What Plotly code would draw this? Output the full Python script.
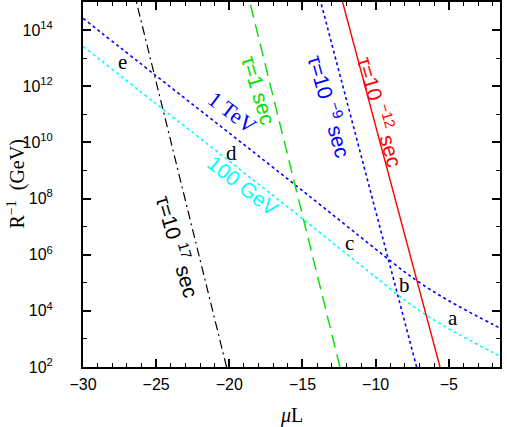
import plotly.graph_objects as go

# mass curves: mu*L vs R^-1 (GeV)
mu_L_mass = [-30, -25, -20, -15, -10, -8, -7, -6, -5, -4, -3, -2, -1.5]
r_1tev = [10 ** v for v in [14.42, 12.37, 10.33, 8.28, 6.2, 5.38, 5.01, 4.67, 4.36, 4.07, 3.79, 3.52, 3.38]]
r_100gev = [10 ** v for v in [13.42, 11.37, 9.33, 7.28, 5.2, 4.38, 4.01, 3.67, 3.36, 3.07, 2.79, 2.52, 2.38]]

# lifetime lines: mu*L where they cross R^-1 = 1e2 and 1e15
r_edges = [1e2, 1e15]
tau_m12 = [-5.6, -12.26]
tau_m9 = [-7.2, -13.75]
tau_1 = [-12.44, -18.6]
tau_17 = [-20.19, -26.35]

fig = go.Figure()

fig.add_trace(go.Scatter(x=mu_L_mass, y=r_1tev, mode='lines',
                         line=dict(color='#0000ff', width=1.6, dash='dot', shape='spline')))
fig.add_trace(go.Scatter(x=mu_L_mass, y=r_100gev, mode='lines',
                         line=dict(color='#00ffff', width=1.6, dash='dot', shape='spline')))
fig.add_trace(go.Scatter(x=tau_m12, y=r_edges, mode='lines',
                         line=dict(color='#ff0000', width=1.4)))
fig.add_trace(go.Scatter(x=tau_m9, y=r_edges, mode='lines',
                         line=dict(color='#0000ff', width=1.6, dash='dot')))
fig.add_trace(go.Scatter(x=tau_1, y=r_edges, mode='lines',
                         line=dict(color='#00e000', width=1.4, dash='13px,7px')))
fig.add_trace(go.Scatter(x=tau_17, y=r_edges, mode='lines',
                         line=dict(color='black', width=1.2, dash='9px,4px,2px,4px')))

serif = 'Liberation Serif'
sans = 'Liberation Sans'

# region letters
for txt, x, y in [('e', -27.28, 12.85), ('d', -19.83, 9.62), ('c', -11.76, 6.41),
                  ('b', -8.0, 4.92), ('a', -4.72, 3.74)]:
    fig.add_annotation(x=x, y=y, text=txt, showarrow=False,
                       font=dict(family=serif, size=21, color='black'))

# line labels
labels = [
    ('τ=10 <sup>−12</sup> sec', -9.6, 11.1, 74, '#ff0000', sans, 21),
    ('τ=10 <sup>−9</sup> sec', -13.1, 11.3, 74, '#0000ff', sans, 21),
    ('τ=1 sec', -18.0, 11.85, 73, '#00e000', sans, 21),
    ('τ=10 <sup>17</sup> sec', -23.5, 6.3, 74, 'black', sans, 21),
    ('1 TeV', -19.8, 11.05, 37, '#0000ff', serif, 22),
    ('100 GeV', -19.1, 8.45, 38, '#00ffff', sans, 21),
]
for txt, x, y, ang, col, fam, sz in labels:
    fig.add_annotation(x=x, y=y, text=txt, showarrow=False, textangle=ang,
                       font=dict(family=fam, size=sz, color=col))

# axis titles
fig.add_annotation(xref='paper', yref='paper', x=0.5, y=0, yshift=-48, showarrow=False,
                   xanchor='center', yanchor='middle',
                   text='<i>μ</i>L', font=dict(family=serif, size=20, color='black'))
fig.add_annotation(xref='paper', yref='paper', x=0, y=0.5, xshift=-67, showarrow=False,
                   xanchor='center', yanchor='middle',
                   textangle=-90, text='R<sup>−1</sup>\u00a0\u00a0(GeV)',
                   font=dict(family=serif, size=20, color='black'))

fig.update_xaxes(
    range=[-30, -1.5], dtick=5, tick0=0,
    ticks='inside', ticklen=8, tickwidth=1.5, tickcolor='black',
    minor=dict(dtick=1, ticks='inside', ticklen=4, tickwidth=1.2, tickcolor='black'),
    showline=True, linecolor='black', linewidth=2, mirror='ticks',
    showgrid=False, zeroline=False, automargin=False,
    tickfont=dict(family=sans, size=16, color='black'),
    ticklabelstandoff=2,
)

ytv = [10 ** k for k in range(2, 16, 2)]
fig.update_yaxes(
    type='log', range=[2, 15],
    tickvals=ytv, ticktext=['10<sup>%d</sup>' % k for k in range(2, 16, 2)],
    ticks='inside', ticklen=8, tickwidth=1.5, tickcolor='black',
    minor=dict(tickvals=[10 ** k for k in range(3, 16, 2)], ticks='inside', ticklen=4,
               tickwidth=1.2, tickcolor='black'),
    showline=True, linecolor='black', linewidth=2, mirror='ticks',
    showgrid=False, zeroline=False, automargin=False,
    tickfont=dict(family=sans, size=16, color='black'),
    ticklabelstandoff=25,
)

fig.update_layout(
    width=507, height=427,
    margin=dict(l=83, r=7, t=2, b=60),
    plot_bgcolor='white', paper_bgcolor='white',
    showlegend=False,
)

# page body has an 8px default margin; drop it so the figure sits at the corner
fig.write_html("out.html", config={'displayModeBar': False},
               post_script="document.body.style.margin='0';")
